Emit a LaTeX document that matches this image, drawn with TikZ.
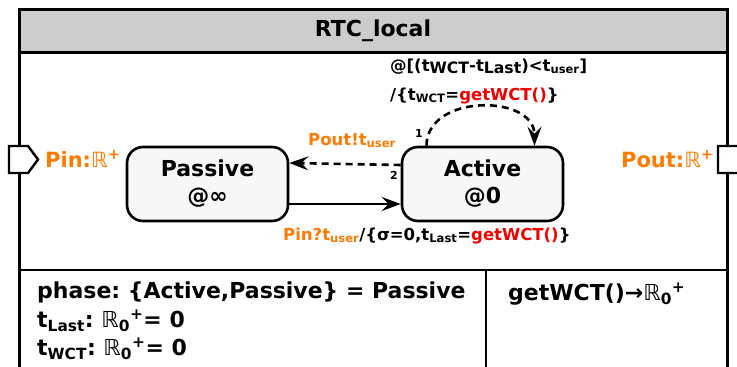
\documentclass[tikz,border=0pt]{standalone}
\usepackage{fontspec}
\setmainfont{DejaVu Sans}
\usepackage{graphicx}
\usetikzlibrary{arrows.meta,calc}

\definecolor{portorange}{RGB}{255,122,0}
\definecolor{fnred}{RGB}{240,0,0}
\definecolor{headgray}{RGB}{204,204,204}
\definecolor{statefill}{RGB}{247,247,247}

\newcommand{\Rset}{{\mdseries ℝ}}
\newcommand{\sbs}[1]{\textsubscript{#1}}
\newcommand{\lowsb}[1]{\raisebox{-0.3ex}{\scalebox{0.95}{#1}}}
\frenchspacing

\begin{document}
\begin{tikzpicture}[x=1pt,y=-1pt,
  state/.style={draw, line width=2.6pt, fill=statefill, rounded corners=16pt,
    minimum width=161pt, minimum height=74pt, align=center,
    font=\fontsize{22}{27}\selectfont\bfseries},
  bigtext/.style={inner sep=0pt, font=\fontsize{22}{26}\selectfont\bfseries},
  porttext/.style={inner sep=0pt, text=portorange, font=\fontsize{21}{25}\selectfont\bfseries},
  lbl/.style={inner sep=0pt, font=\fontsize{16.5}{19}\selectfont\bfseries},
  numlbl/.style={inner sep=0pt, font=\fontsize{11}{12}\selectfont\bfseries},
  trans/.style={line width=2.6pt, -{Stealth[length=19pt,width=14pt,inset=7pt]}},
  dashtrans/.style={trans, dash pattern=on 7pt off 5pt},
  ]
  \useasboundingbox (0,0) rectangle (737,367);

  % block frame
  \fill[headgray] (19,9) rectangle (727,52);
  \draw[line width=3pt] (19,400) -- (19,9) -- (727,9) -- (727,400);
  \draw[line width=3pt] (19,52) -- (727,52);
  \draw[line width=2.2pt] (19,270) -- (727,270);
  \draw[line width=2.2pt] (486,270) -- (486,400);

  % ports
  \draw[line width=2.4pt, fill=white] (9,146) -- (28,146) -- (38,159.5) -- (28,173) -- (9,173) -- cycle;
  \draw[line width=2.4pt, fill=white] (718,146) -- (740,146) -- (750,159.5) -- (740,173) -- (718,173) -- cycle;

  \node[bigtext] (title) at (373,31) {RTC\_local};
  \node[porttext, anchor=base west] (pin) at (45,167) {Pin:\Rset\textsuperscript{+}};
  \node[porttext, anchor=base east] (pout) at (714,167) {Pout:\Rset\textsuperscript{+}};

  % states
  \node[state] (passive) at (207.5,184) {Passive\\@∞};
  \node[state] (active) at (482.5,184) {Active\\@0};

  % transitions
  \draw[trans] ([yshift=-20pt]passive.east) -- ([yshift=-20pt]active.west);
  \draw[dashtrans] ([yshift=19pt]active.west) -- ([yshift=21pt]passive.east);
  \draw[dashtrans] ([xshift=-56pt]active.north)
    .. controls +(0,-52) and +(0,-52) .. ([xshift=52pt]active.north);

  \node[numlbl] (one) at (419,133) {1};
  \node[numlbl] (two) at (394,175) {2};
  \node[lbl, text=portorange, anchor=base west] (outlbl) at (308,145) {Pout!t\sbs{user}};
  \node[lbl, anchor=base west] (guard) at (390,71) {@[(t\lowsb{WCT}-t\lowsb{Last})<t\sbs{user}]};
  \node[lbl, anchor=base west] (action) at (390,100) {/\{t\sbs{WCT}=\textcolor{fnred}{getWCT()}\}};
  \node[lbl, anchor=base west] (inlbl) at (283,240) {\textcolor{portorange}{Pin?t\sbs{user}}/\{σ=0,t\sbs{Last}=\textcolor{fnred}{getWCT()}\}};

  % variables and functions
  \node[bigtext, anchor=base west] (phase) at (37,298) {phase: \{Active,Passive\} = Passive};
  \node[bigtext, anchor=base west] (tlast) at (37,327) {t\sbs{Last}: \Rset\sbs{0}\textsuperscript{+}= 0};
  \node[bigtext, anchor=base west] (twct) at (37,355) {t\sbs{WCT}: \Rset\sbs{0}\textsuperscript{+}= 0};
  \node[bigtext, anchor=base west] (getwct) at (508,300) {getWCT()→\Rset\sbs{0}\textsuperscript{+}};
\end{tikzpicture}
\end{document}
